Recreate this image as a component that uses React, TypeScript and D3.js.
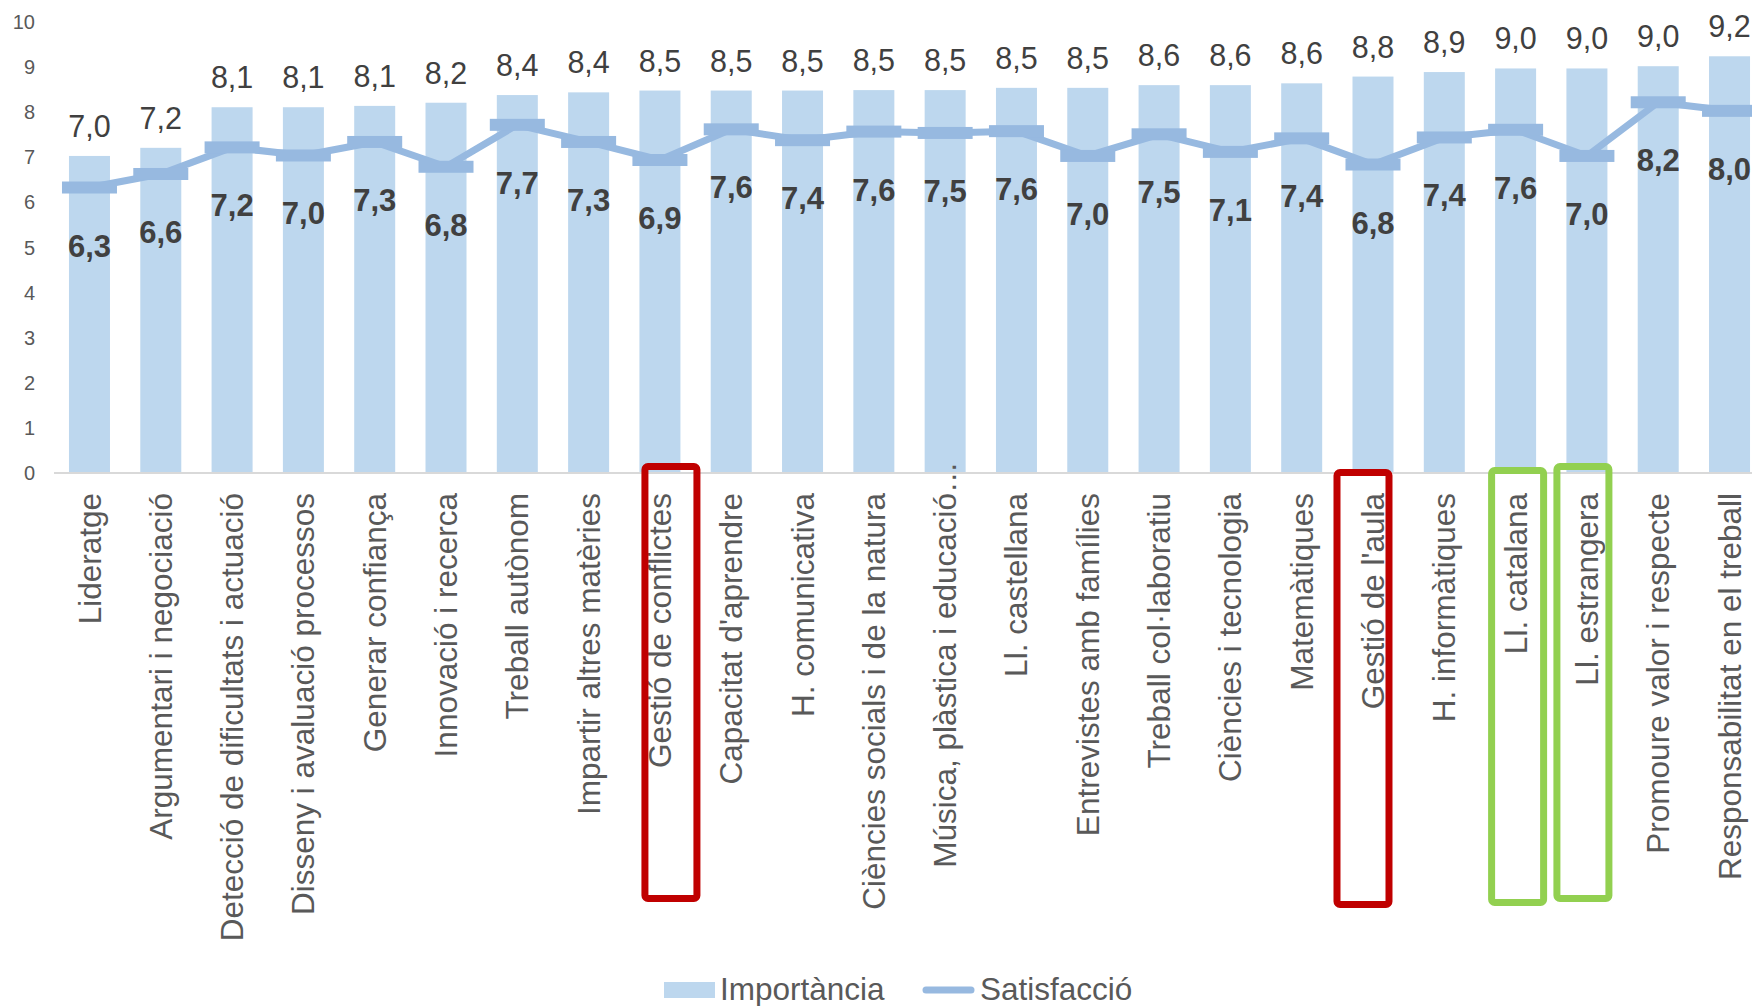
import React from "react";
import * as d3 from "d3";

const categories: string[] = [
  "Lideratge",
  "Argumentari i negociació",
  "Detecció de dificultats i actuació",
  "Disseny i avaluació processos",
  "Generar confiança",
  "Innovació i recerca",
  "Treball autònom",
  "Impartir altres matèries",
  "Gestió de conflictes",
  "Capacitat d'aprendre",
  "H. comunicativa",
  "Ciències socials i de la natura",
  "Música, plàstica i educació…",
  "Ll. castellana",
  "Entrevistes amb famílies",
  "Treball col·laboratiu",
  "Ciències i tecnologia",
  "Matemàtiques",
  "Gestió de l'aula",
  "H. informàtiques",
  "Ll. catalana",
  "Ll. estrangera",
  "Promoure valor i respecte",
  "Responsabilitat en el treball",
];

const importancia: number[] = [
  7.03, 7.21, 8.11, 8.11, 8.14, 8.21, 8.38, 8.44, 8.48, 8.48, 8.48, 8.49,
  8.49, 8.54, 8.54, 8.6, 8.6, 8.64, 8.79, 8.89, 8.97, 8.97, 9.02, 9.24,
];

const satisfaccio: number[] = [
  6.33, 6.63, 7.22, 7.04, 7.34, 6.79, 7.72, 7.34, 6.94, 7.62, 7.38, 7.57,
  7.54, 7.58, 7.03, 7.51, 7.12, 7.42, 6.84, 7.44, 7.61, 7.03, 8.22, 8.03,
];

const yTicks: number[] = [0, 1, 2, 3, 4, 5, 6, 7, 8, 9, 10];

const seriesNames: string[] = ["Importància", "Satisfacció"];

// highlighted categories (annotation boxes)
const highlightCats: string[] = [
  "Gestió de conflictes",
  "Gestió de l'aula",
  "Ll. catalana",
  "Ll. estrangera",
];
const highlightKinds: string[] = ["red", "red", "green", "green"];

const W = 1752;
const H = 1006;
const FONT = "'Liberation Sans', Arial, Helvetica, sans-serif";
const BAR = "#bdd7ee";
const LINE = "#97b9e0";
const TXT = "#595959";
const VAL = "#404040";
const BOX_COLORS: Record<string, string> = { red: "#c00000", green: "#92d050" };
const BOX_DX = [11, -10, 2, -4];
const BOX_Y = [
  [466.5, 898.5],
  [472.5, 904.5],
  [470.5, 902.5],
  [466.5, 898.5],
];

const fmt = (v: number) => d3.format(".1f")(v).replace(".", ",");

export default function App() {
  const x = d3
    .scaleBand<string>()
    .domain(categories)
    .range([54, 1765])
    .paddingInner(0.425)
    .paddingOuter(0.21);
  const y = d3.scaleLinear().domain([0, 10]).range([473, 22]);
  const bw = x.bandwidth();
  const cx = (c: string) => (x(c) as number) + bw / 2;

  const line = d3
    .line<number>()
    .x((_, i) => cx(categories[i]))
    .y((d) => y(d));

  const labelEnd = 493;

  return (
    <div style={{ position: "fixed", left: 0, top: 0, width: W, height: H, background: "#fff" }}>
      <svg width={W} height={H} style={{ display: "block", fontFamily: FONT }}>
        {/* y tick labels */}
        {yTicks.map((t) => (
          <text
            key={t}
            x={35}
            y={y(t)}
            dy="0.35em"
            textAnchor="end"
            fontSize={20}
            fill={TXT}
          >
            {t}
          </text>
        ))}

        {/* bars */}
        {categories.map((c, i) => (
          <rect
            key={c}
            x={x(c)}
            y={y(importancia[i])}
            width={bw}
            height={y(0) - y(importancia[i])}
            fill={BAR}
          />
        ))}

        {/* x axis line */}
        <line x1={54} x2={W} y1={y(0)} y2={y(0)} stroke="#d9d9d9" strokeWidth={2} />

        {/* importance labels */}
        {categories.map((c, i) => (
          <text
            key={c}
            x={cx(c)}
            y={y(importancia[i]) - 19}
            textAnchor="middle"
            fontSize={30.5}
            fill={VAL}
          >
            {fmt(importancia[i])}
          </text>
        ))}

        {/* satisfaction line */}
        <path
          d={line(satisfaccio) || ""}
          fill="none"
          stroke={LINE}
          strokeWidth={7}
          strokeLinejoin="round"
          strokeLinecap="round"
        />
        {categories.map((c, i) => (
          <rect
            key={c}
            x={cx(c) - 27.5}
            y={y(satisfaccio[i]) - 6}
            width={55}
            height={12}
            fill={LINE}
          />
        ))}
        {categories.map((c, i) => (
          <text
            key={c}
            x={cx(c)}
            y={y(satisfaccio[i]) + 69}
            textAnchor="middle"
            fontSize={31}
            fontWeight="bold"
            fill={VAL}
          >
            {fmt(satisfaccio[i])}
          </text>
        ))}

        {/* category labels */}
        {categories.map((c) => {
          const ell = c.endsWith("…");
          const main = ell ? c.slice(0, -1) : c;
          return (
            <g key={c} transform={`translate(${cx(c)},${labelEnd}) rotate(-90)`}>
              <text textAnchor="end" dy="0.35em" fontSize={31.5} fill={TXT}>
                {main}
              </text>
              {ell && (
                <text textAnchor="start" dy="0.35em" fontSize={31.5} fill={TXT}>
                  …
                </text>
              )}
            </g>
          );
        })}

        {/* highlight boxes */}
        {highlightCats.map((c, i) => (
          <rect
            key={c}
            x={cx(c) + BOX_DX[i] - 26}
            y={BOX_Y[i][0]}
            width={52}
            height={BOX_Y[i][1] - BOX_Y[i][0]}
            rx={3}
            fill="none"
            stroke={BOX_COLORS[highlightKinds[i]]}
            strokeWidth={7}
          />
        ))}

        {/* legend */}
        <rect x={664} y={982} width={51} height={16} fill={BAR} />
        <text x={720} y={1000} fontSize={31.5} fill={TXT}>
          {seriesNames[0]}
        </text>
        <line x1={926} x2={971} y1={990} y2={990} stroke={LINE} strokeWidth={7} strokeLinecap="round" />
        <text x={980} y={1000} fontSize={31.5} fill={TXT}>
          {seriesNames[1]}
        </text>
      </svg>
    </div>
  );
}
